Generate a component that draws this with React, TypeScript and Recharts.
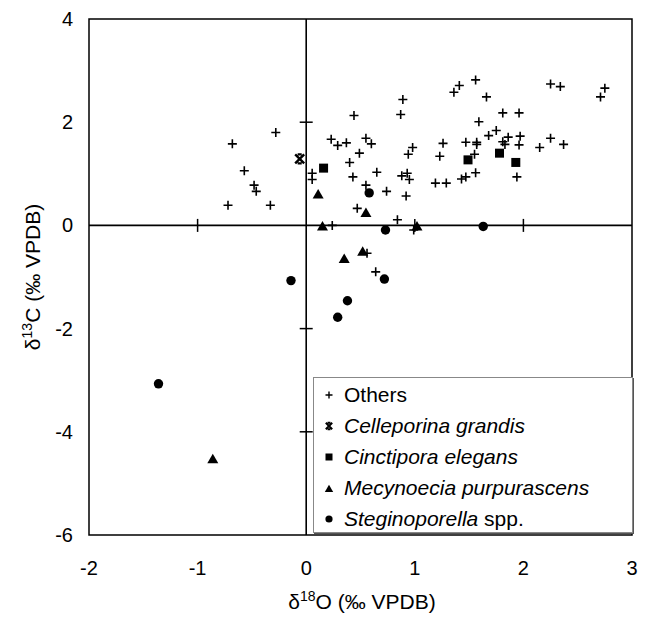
import {
  ScatterChart, Scatter, XAxis, YAxis, ReferenceLine, ReferenceArea,
  ReferenceDot, Legend,
} from 'recharts';

type Pt = { x: number; y: number };

const others: Pt[] = [
  { x: 0.44, y: 2.13 }, { x: -0.28, y: 1.8 }, { x: -0.68, y: 1.58 }, { x: 0.23, y: 1.67 },
  { x: 0.29, y: 1.55 }, { x: 0.37, y: 1.6 }, { x: 0.49, y: 1.4 }, { x: 0.4, y: 1.22 },
  { x: -0.57, y: 1.06 }, { x: 0.055, y: 1.01 }, { x: 0.055, y: 0.89 }, { x: -0.48, y: 0.78 },
  { x: -0.46, y: 0.66 }, { x: 0.43, y: 0.94 }, { x: -0.72, y: 0.39 }, { x: -0.33, y: 0.39 },
  { x: 0.47, y: 0.33 }, { x: 0.24, y: 0.0 }, { x: 1.56, y: 2.82 }, { x: 1.41, y: 2.71 },
  { x: 1.36, y: 2.58 }, { x: 1.66, y: 2.49 }, { x: 2.25, y: 2.74 }, { x: 2.34, y: 2.69 },
  { x: 2.75, y: 2.66 }, { x: 2.71, y: 2.49 }, { x: 0.89, y: 2.44 }, { x: 0.87, y: 2.15 },
  { x: 1.81, y: 2.18 }, { x: 1.96, y: 2.18 }, { x: 1.59, y: 2.01 }, { x: 1.75, y: 1.84 },
  { x: 1.68, y: 1.74 }, { x: 1.86, y: 1.71 }, { x: 1.97, y: 1.73 }, { x: 1.81, y: 1.62 },
  { x: 1.83, y: 1.57 }, { x: 1.96, y: 1.56 }, { x: 2.15, y: 1.51 }, { x: 2.25, y: 1.69 },
  { x: 2.37, y: 1.57 }, { x: 1.47, y: 1.61 }, { x: 1.57, y: 1.61 }, { x: 1.57, y: 1.57 },
  { x: 1.26, y: 1.59 }, { x: 1.23, y: 1.34 }, { x: 1.55, y: 1.38 }, { x: 0.55, y: 1.69 },
  { x: 0.6, y: 1.58 }, { x: 0.98, y: 1.51 }, { x: 0.94, y: 1.38 }, { x: 0.65, y: 1.03 },
  { x: 0.88, y: 0.96 }, { x: 0.93, y: 1.01 }, { x: 0.95, y: 0.89 }, { x: 1.19, y: 0.82 },
  { x: 1.29, y: 0.82 }, { x: 1.43, y: 0.9 }, { x: 1.47, y: 0.94 }, { x: 1.56, y: 1.02 },
  { x: 1.94, y: 0.94 }, { x: 0.55, y: 0.78 }, { x: 0.74, y: 0.66 }, { x: 0.92, y: 0.57 },
  { x: 0.84, y: 0.11 }, { x: 0.99, y: -0.09 }, { x: 0.56, y: -0.54 }, { x: 0.64, y: -0.9 },
];
const celleporina: Pt[] = [{ x: -0.06, y: 1.29 }];
const cinctipora: Pt[] = [
  { x: 0.16, y: 1.11 }, { x: 1.49, y: 1.27 }, { x: 1.78, y: 1.4 }, { x: 1.93, y: 1.22 },
];
const mecynoecia: Pt[] = [
  { x: 0.11, y: 0.61 }, { x: 0.15, y: -0.01 }, { x: 0.55, y: 0.25 }, { x: 1.02, y: -0.01 },
  { x: 0.35, y: -0.64 }, { x: 0.52, y: -0.5 }, { x: -0.86, y: -4.52 },
];
const steginoporella: Pt[] = [
  { x: 0.58, y: 0.63 }, { x: 0.73, y: -0.09 }, { x: 1.63, y: -0.02 }, { x: 0.72, y: -1.04 },
  { x: 0.38, y: -1.46 }, { x: 0.29, y: -1.78 }, { x: -0.14, y: -1.07 }, { x: -1.36, y: -3.07 },
];

const xTicks = [-2, -1, 0, 1, 2, 3];
const yTicks = [-6, -4, -2, 0, 2, 4];

const FONT = '"Liberation Sans", Arial, sans-serif';

// marker shapes, s = half size
const plusPath = (cx: number, cy: number, s: number) =>
  `M${cx - s},${cy}H${cx + s}M${cx},${cy - s}V${cy + s}`;
const starPath = (cx: number, cy: number, s: number) =>
  `M${cx - s},${cy - s}L${cx + s},${cy + s}M${cx + s},${cy - s}L${cx - s},${cy + s}` +
  `M${cx - s * 0.45},${cy - s}H${cx + s * 0.45}M${cx - s * 0.45},${cy + s}H${cx + s * 0.45}`;
const triPath = (cx: number, cy: number, s: number) =>
  `M${cx},${cy - s}L${cx + s * 1.1},${cy + s * 0.9}L${cx - s * 1.1},${cy + s * 0.9}Z`;

// eslint-disable-next-line @typescript-eslint/no-explicit-any
const PlusMark = ({ cx, cy }: any) => <path d={plusPath(cx, cy, 4.5)} stroke="#000" strokeWidth={1.6} fill="none" />;
// eslint-disable-next-line @typescript-eslint/no-explicit-any
const StarMark = ({ cx, cy }: any) => <path d={starPath(cx, cy, 4.5)} stroke="#000" strokeWidth={2.4} fill="none" />;
// eslint-disable-next-line @typescript-eslint/no-explicit-any
const SquareMark = ({ cx, cy }: any) => <rect x={cx - 4.5} y={cy - 4.5} width={9} height={9} fill="#000" />;
// eslint-disable-next-line @typescript-eslint/no-explicit-any
const TriMark = ({ cx, cy }: any) => <path d={triPath(cx, cy, 5)} fill="#000" />;
// eslint-disable-next-line @typescript-eslint/no-explicit-any
const CircleMark = ({ cx, cy }: any) => <circle cx={cx} cy={cy} r={4.7} fill="#000" />;

// eslint-disable-next-line @typescript-eslint/no-explicit-any
const HTick = ({ cx, cy }: any) => <line x1={cx - 6.5} x2={cx + 6.5} y1={cy} y2={cy} stroke="#000" strokeWidth={1.5} />;
// eslint-disable-next-line @typescript-eslint/no-explicit-any
const VTick = ({ cx, cy }: any) => <line x1={cx} x2={cx} y1={cy - 6.5} y2={cy + 6.5} stroke="#000" strokeWidth={1.5} />;

// eslint-disable-next-line @typescript-eslint/no-explicit-any
const XTick = ({ x, payload }: any) => (
  <text x={x} y={575} textAnchor="middle" fontSize={20} fontFamily={FONT} fill="#000">{payload.value}</text>
);
// eslint-disable-next-line @typescript-eslint/no-explicit-any
const YTick = ({ y, payload }: any) => (
  <text x={73} y={y + 7} textAnchor="end" fontSize={20} fontFamily={FONT} fill="#000">{payload.value}</text>
);

const XTitle = () => (
  <text x={362} y={609} textAnchor="middle" fontSize={21} fontFamily={FONT} fill="#000">
    δ<tspan fontSize={14} dy={-8}>18</tspan><tspan dy={8}>O (‰ VPDB)</tspan>
  </text>
);
const YTitle = () => (
  <text x={40} y={277} transform="rotate(-90 40 277)" textAnchor="middle" fontSize={21} fontFamily={FONT} fill="#000">
    δ<tspan fontSize={14} dy={-8}>13</tspan><tspan dy={8}>C (‰ VPDB)</tspan>
  </text>
);

const legendItems = [
  { key: 'plus', label: <span>Others</span> },
  { key: 'star', label: <i>Celleporina grandis</i> },
  { key: 'square', label: <i>Cinctipora elegans</i> },
  { key: 'tri', label: <i>Mecynoecia purpurascens</i> },
  { key: 'circle', label: <span><i>Steginoporella</i> spp.</span> },
];

const LegendIcon = ({ kind }: { kind: string }) => (
  <svg width={30} height={20} style={{ flex: 'none' }}>
    {kind === 'plus' && <path d={plusPath(15, 10, 3.5)} stroke="#000" strokeWidth={1.4} />}
    {kind === 'star' && <path d={starPath(15, 10, 3.2)} stroke="#000" strokeWidth={2} />}
    {kind === 'square' && <rect x={11.5} y={6.5} width={7} height={7} fill="#000" />}
    {kind === 'tri' && <path d={triPath(15, 10.5, 3.8)} fill="#000" />}
    {kind === 'circle' && <circle cx={15} cy={10} r={3.6} fill="#000" />}
  </svg>
);

const LegendBox = () => (
  <div style={{
    width: 320, height: 156, boxSizing: 'border-box', background: '#fff',
    border: '1px solid #888', boxShadow: '1px 1px 0 #555', paddingTop: 1,
    fontFamily: FONT, fontSize: 21, color: '#000',
  }}>
    {legendItems.map(it => (
      <div key={it.key} style={{ height: 31.2, display: 'flex', alignItems: 'center', whiteSpace: 'nowrap' }}>
        <LegendIcon kind={it.key} />
        {it.label}
      </div>
    ))}
  </div>
);

export default function App() {
  const innerY = yTicks.filter(v => v !== 0 && v !== yTicks[0] && v !== yTicks[yTicks.length - 1]);
  const innerX = xTicks.filter(v => v !== 0 && v !== xTicks[0] && v !== xTicks[xTicks.length - 1]);
  return (
    <div style={{ position: 'absolute', left: 0, top: 0, background: '#fff' }}>
      <ScatterChart width={646} height={619} margin={{ top: 19, right: 14, left: 0, bottom: 0 }}>
        <XAxis
          type="number" dataKey="x" domain={[-2, 3]} ticks={xTicks}
          axisLine={false} tickLine={false} height={84} tick={<XTick />}
          label={{ content: <XTitle /> }} allowDataOverflow
        />
        <YAxis
          type="number" dataKey="y" domain={[-6, 4]} ticks={yTicks}
          axisLine={false} tickLine={false} width={89} tick={<YTick />}
          label={{ content: <YTitle /> }} allowDataOverflow
        />
        <ReferenceArea x1={-2} x2={3} y1={-6} y2={4} fill="none" stroke="#000" strokeWidth={1.5} />
        <ReferenceLine x={0} stroke="#000" strokeWidth={1.6} />
        <ReferenceLine y={0} stroke="#000" strokeWidth={1.6} />
        {innerY.map(v => <ReferenceDot key={'hy' + v} x={0} y={v} shape={<HTick />} />)}
        {innerX.map(v => <ReferenceDot key={'vx' + v} x={v} y={0} shape={<VTick />} />)}
        <Scatter name="Others" data={others} shape={<PlusMark />} isAnimationActive={false} />
        <Scatter name="Celleporina grandis" data={celleporina} shape={<StarMark />} isAnimationActive={false} />
        <Scatter name="Cinctipora elegans" data={cinctipora} shape={<SquareMark />} isAnimationActive={false} />
        <Scatter name="Mecynoecia purpurascens" data={mecynoecia} shape={<TriMark />} isAnimationActive={false} />
        <Scatter name="Steginoporella spp." data={steginoporella} shape={<CircleMark />} isAnimationActive={false} />
        <Legend
          layout="vertical" align="center" verticalAlign="middle" content={<LegendBox />}
          wrapperStyle={{ position: 'absolute', left: 313, top: 377, width: 320, height: 156 }}
        />
      </ScatterChart>
    </div>
  );
}
